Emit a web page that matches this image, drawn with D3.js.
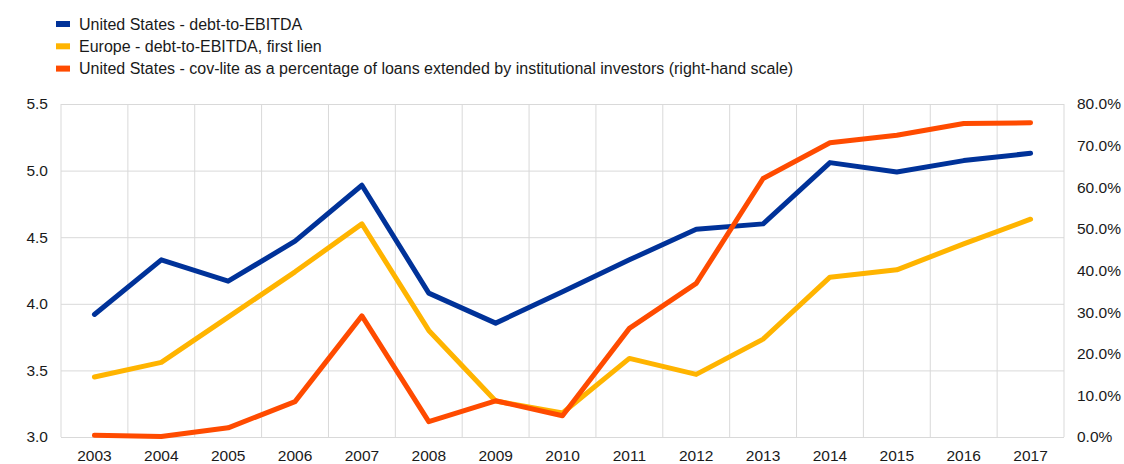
<!DOCTYPE html>
<html>
<head>
<meta charset="utf-8">
<script src="https://cdn.jsdelivr.net/npm/d3@7"></script>
<style>
    body { margin: 0; background: #fff; }
    text { font-family: 'Liberation Sans', Arial, sans-serif; fill: #1a1a1a; }
    .grid line { stroke: #d9d9d9; stroke-width: 1; }
</style>
</head>
<body>
<div id="chart"></div>
<script>
const years = ['2003', '2004', '2005', '2006', '2007', '2008', '2009', '2010',
    '2011', '2012', '2013', '2014', '2015', '2016', '2017'];

const usDebtToEbitda = [3.92, 4.33, 4.17, 4.47, 4.89, 4.08, 3.855, 4.09,
    4.33, 4.56, 4.60, 5.06, 4.99, 5.075, 5.13];
const europeDebtToEbitda = [3.45, 3.56, 3.90, 4.24, 4.60, 3.80, 3.27, 3.18,
    3.59, 3.47, 3.735, 4.20, 4.255, 4.45, 4.635];
const usCovLite = [0.4, 0.1, 2.2, 8.5, 29.1, 3.7, 8.7, 5.1,
    26.1, 36.9, 62.1, 70.7, 72.5, 75.3, 75.5];

const leftTicks = [3.0, 3.5, 4.0, 4.5, 5.0, 5.5];
const rightTicks = [0, 10, 20, 30, 40, 50, 60, 70, 80];

const seriesNames = [
    'United States - debt-to-EBITDA',
    'Europe - debt-to-EBITDA, first lien',
    'United States - cov-lite as a percentage of loans extended by institutional investors (right-hand scale)'
];
const seriesColors = ['#003299', '#ffb400', '#ff4b00'];

const width = 1124;
const height = 464;
const margin = { top: 104, right: 60, bottom: 27, left: 61 };
const chartWidth = width - margin.left - margin.right;
const chartHeight = height - margin.top - margin.bottom;

const svg = d3.select('#chart').append('svg').attr('width', width).attr('height', height);
const chart = svg.append('g').attr('transform', `translate(${margin.left}, ${margin.top})`);

const xScale = d3.scaleBand().domain(years).range([0, chartWidth]);
const yLeft = d3.scaleLinear().domain([3.0, 5.5]).range([chartHeight, 0]);
const yRight = d3.scaleLinear().domain([0, 80]).range([chartHeight, 0]);

// Horizontal grid lines
chart.append('g')
    .attr('class', 'grid')
    .call(d3.axisLeft(yLeft).tickValues(leftTicks).tickSize(-chartWidth).tickFormat(''))
    .call((g) => g.select('.domain').remove());

// Vertical grid lines at band edges
chart.append('g')
    .attr('class', 'grid')
    .selectAll('line')
    .data(years.concat(['end']))
    .enter()
    .append('line')
    .attr('x1', (d, i) => i < years.length ? xScale(d) : chartWidth)
    .attr('x2', (d, i) => i < years.length ? xScale(d) : chartWidth)
    .attr('y1', 0)
    .attr('y2', chartHeight);

// Axes (labels only)
const leftAxis = chart.append('g')
    .call(d3.axisLeft(yLeft).tickValues(leftTicks).tickSize(0).tickPadding(13).tickFormat(d3.format('.1f')));
leftAxis.select('.domain').remove();

const rightAxis = chart.append('g')
    .attr('transform', `translate(${chartWidth}, 0)`)
    .call(d3.axisRight(yRight).tickValues(rightTicks).tickSize(0).tickPadding(13).tickFormat((d) => d.toFixed(1) + '%'));
rightAxis.select('.domain').remove();

const bottomAxis = chart.append('g')
    .attr('transform', `translate(0, ${chartHeight})`)
    .call(d3.axisBottom(xScale).tickSize(0).tickPadding(13));
bottomAxis.select('.domain').remove();

svg.selectAll('.tick text').attr('font-size', 15.5).attr('fill', '#1a1a1a')
    .style('font-family', "'Liberation Sans', Arial, sans-serif");

// Lines
const xCenter = (i) => xScale(years[i]) + xScale.bandwidth() / 2;
const leftLine = d3.line().x((d, i) => xCenter(i)).y((d) => yLeft(d));
const rightLine = d3.line().x((d, i) => xCenter(i)).y((d) => yRight(d));

const drawLine = (data, line, color) => {
    chart.append('path')
        .datum(data)
        .attr('d', line)
        .attr('fill', 'none')
        .attr('stroke', color)
        .attr('stroke-width', 5)
        .attr('stroke-linecap', 'round')
        .attr('stroke-linejoin', 'round');
};

drawLine(europeDebtToEbitda, leftLine, seriesColors[1]);
drawLine(usDebtToEbitda, leftLine, seriesColors[0]);
drawLine(usCovLite, rightLine, seriesColors[2]);

// Legend
const legend = svg.append('g').attr('transform', 'translate(56, 17)');
const items = legend.selectAll('g')
    .data(seriesNames)
    .enter()
    .append('g')
    .attr('transform', (d, i) => `translate(0, ${i * 22.3})`);

items.append('rect')
    .attr('width', 14)
    .attr('height', 6)
    .attr('y', 4)
    .attr('fill', (d, i) => seriesColors[i]);

items.append('text')
    .attr('x', 23)
    .attr('y', 7)
    .attr('dy', '0.35em')
    .attr('font-size', 16)
    .text((d) => d);
</script>
</body>
</html>
